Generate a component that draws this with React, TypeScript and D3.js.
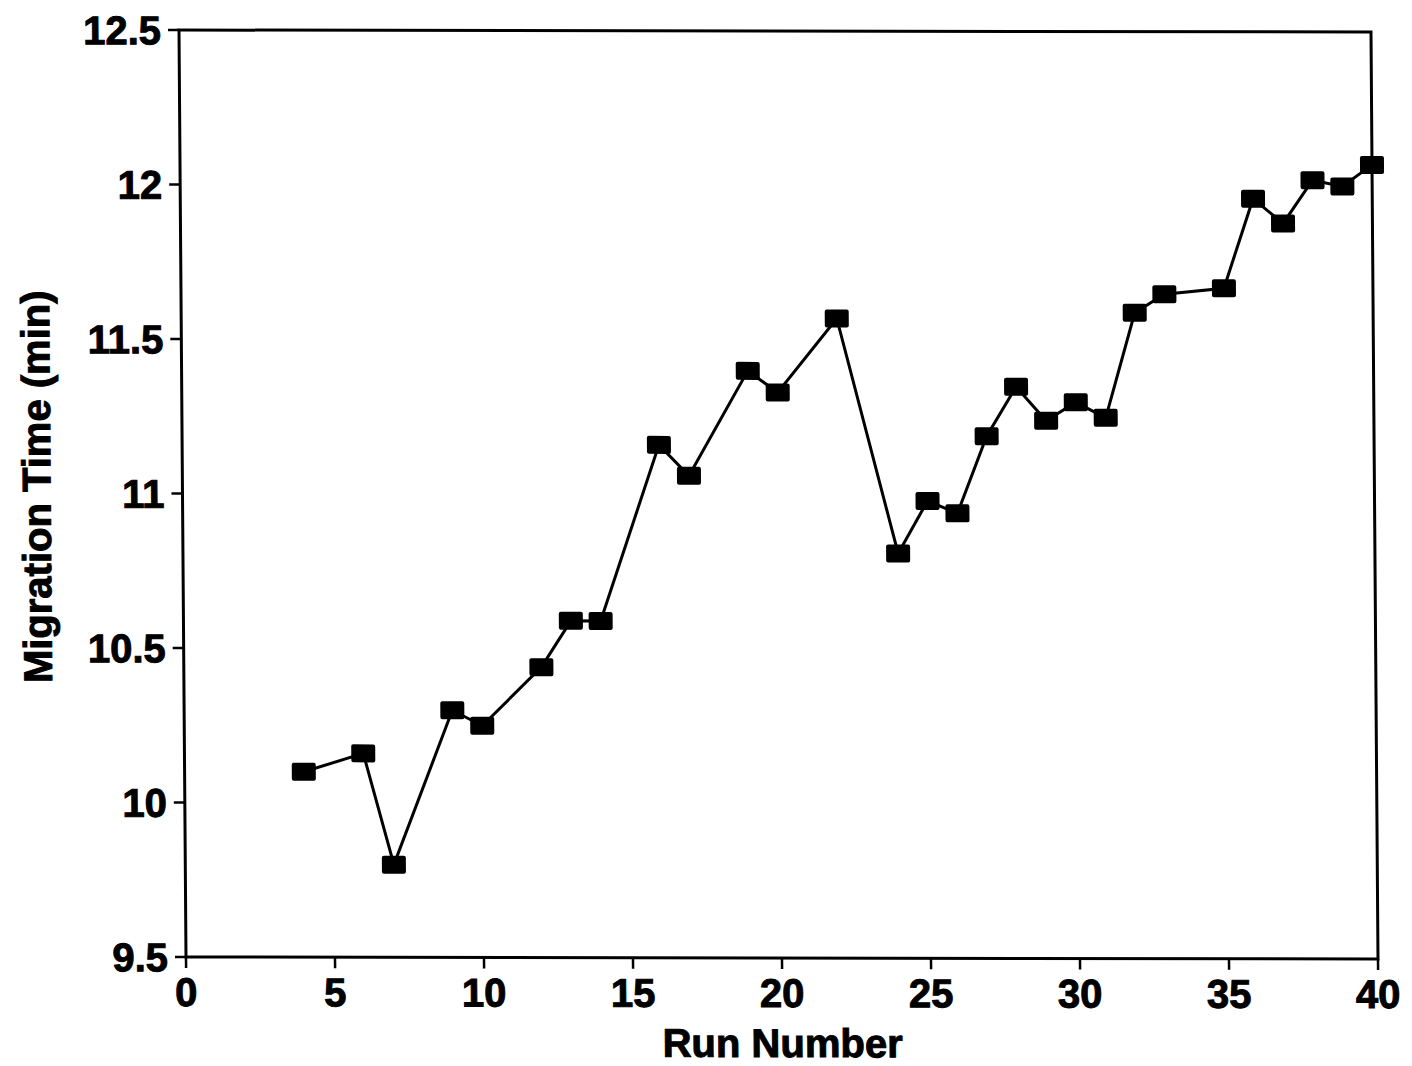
import React from "react";
import * as d3 from "d3";

// Run numbers and their migration times (min)
const runs = [4, 6, 7, 9, 10, 12, 13, 14, 16, 17, 19, 20, 22, 24, 25, 26, 27, 28, 29, 30, 31, 32, 33, 35, 36, 37, 38, 39, 40];
const times = [10.10, 10.16, 9.80, 10.30, 10.25, 10.44, 10.59, 10.59, 11.16, 11.06, 11.40, 11.33, 11.57, 10.81, 10.98, 10.94, 11.19, 11.35, 11.24, 11.30, 11.25, 11.59, 11.65, 11.67, 11.96, 11.88, 12.02, 12.00, 12.07];

const xTicks = [0, 5, 10, 15, 20, 25, 30, 35, 40];
const yTicks = [9.5, 10, 10.5, 11, 11.5, 12, 12.5];
const yTickLabels = ["9.5", "10", "10.5", "11", "11.5", "12", "12.5"];

const xLabel = "Run Number";
const yLabel = "Migration Time (min)";

const W = 1412;
const H = 1066;
const left = 186;
const right = 1378;
const top = 30;
const bottom = 957;

const FONT = "'Liberation Sans', Arial, Helvetica, sans-serif";

// heavy bold lettering
const textStyle = {
  fontFamily: FONT,
  fontWeight: "bold" as const,
  fontSize: 40,
  fill: "#000",
  stroke: "#000",
  strokeWidth: 1,
};

export default function App() {
  const x = d3.scaleLinear().domain([0, 40]).range([left, right]);
  const y = d3.scaleLinear().domain([9.5, 12.5]).range([bottom, top]);

  const pts: [number, number][] = runs.map((r, i) => [r, times[i]]);
  const line = d3
    .line<[number, number]>()
    .x((d) => x(d[0]))
    .y((d) => y(d[1]));

  const tickLen = 11;
  const mw = 24;
  const mh = 18;

  return (
    <svg
      width={W}
      height={H}
      viewBox={`0 0 ${W} ${H}`}
      style={{ position: "absolute", left: 0, top: 0, background: "#fff" }}
    >
      <rect x={0} y={0} width={W} height={H} fill="#fff" />
      <g transform="matrix(1, 0.0017, 0.00755, 1, -7.23, -0.32)">
        {/* plot frame */}
        <rect
          x={left}
          y={top}
          width={right - left}
          height={bottom - top}
          fill="none"
          stroke="#000"
          strokeWidth={3}
        />

        {/* x axis ticks and labels */}
        {xTicks.map((t) => (
          <g key={`xt${t}`}>
            <line x1={x(t)} x2={x(t)} y1={bottom} y2={bottom + tickLen} stroke="#000" strokeWidth={2.5} />
            <text x={x(t)} y={1006} textAnchor="middle" style={textStyle}>
              {t}
            </text>
          </g>
        ))}

        {/* y axis ticks and labels */}
        {yTicks.map((t, i) => (
          <g key={`yt${t}`}>
            <line x1={left - tickLen} x2={left} y1={y(t)} y2={y(t)} stroke="#000" strokeWidth={2.5} />
            <text x={168} y={y(t)} dy="0.36em" textAnchor="end" style={textStyle}>
              {yTickLabels[i]}
            </text>
          </g>
        ))}

        {/* axis titles */}
        <text x={(left + right) / 2} y={1056} textAnchor="middle" style={textStyle}>
          {xLabel}
        </text>
        <text transform={`translate(54, 487) rotate(-90)`} textAnchor="middle" style={textStyle}>
          {yLabel}
        </text>

        {/* data series */}
        <path d={line(pts) ?? ""} fill="none" stroke="#000" strokeWidth={3} />
        {pts.map((d, i) => (
          <rect
            key={`m${i}`}
            x={x(d[0]) - mw / 2}
            y={y(d[1]) - mh / 2}
            width={mw}
            height={mh}
            rx={2}
            fill="#000"
          />
        ))}
      </g>
    </svg>
  );
}
